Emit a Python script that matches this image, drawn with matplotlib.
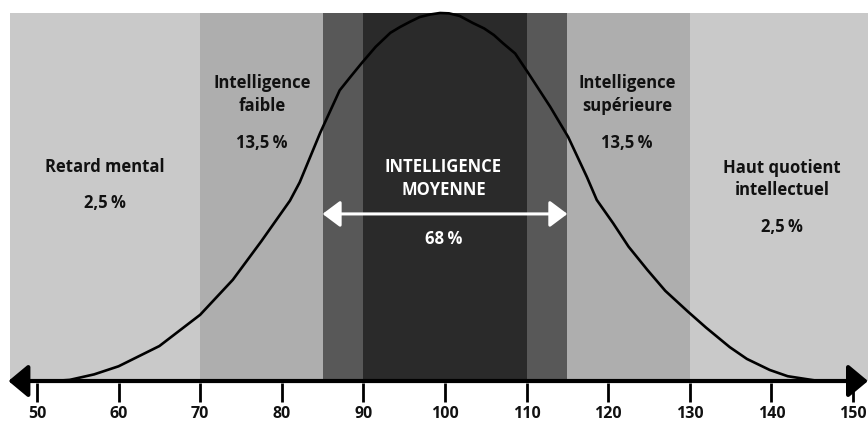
import matplotlib
matplotlib.use('Agg')
import matplotlib.pyplot as plt

# IQ bands (edges) and their grey tones
band_edges = [70, 85, 90, 110, 115, 130]
band_colors = ['#c9c9c9', '#aeaeae', '#585858', '#2a2a2a', '#585858', '#aeaeae', '#c9c9c9']

# bell curve (height, % of peak)
curve_x = [52, 54, 57, 60, 65, 70, 74, 77.5, 81, 82.2, 84.7, 87.1, 88.4, 89.8, 91.5,
           93.3, 94.5, 95.7, 96.9, 98.2, 99.4, 100.5, 101.8, 103.4, 104.8, 106, 107.1,
           108.6, 110.2, 112.9, 115.1, 117.4, 118.6, 120.6, 122.5, 124.8, 127, 129.8,
           132, 134.9, 137, 139.8, 142, 145.5, 148]
curve_y = [0, 0.3, 1.8, 4, 9.5, 18, 27.5, 38, 49, 54, 67.4, 79, 82.6, 86.4, 90.8,
           94.6, 96.2, 97.6, 98.9, 99.6, 100, 99.9, 99.2, 97.3, 95.8, 94, 91.8,
           89, 83.7, 74.5, 66.3, 55.4, 49.2, 42.9, 36.5, 30.2, 24.5, 18.8,
           14.5, 9.2, 6, 3, 1.3, 0.1, 0]

ticks = [50, 60, 70, 80, 90, 100, 110, 120, 130, 140, 150]

labels = ['Retard mental', 'Intelligence\nfaible', 'INTELLIGENCE\nMOYENNE',
          'Intelligence\nsupérieure', 'Haut quotient\nintellectuel']
percents = ['2,5\u2009%', '13,5\u2009%', '68\u2009%', '13,5\u2009%', '2,5\u2009%']

plt.rcParams['font.family'] = ['Open Sans', 'DejaVu Sans']

fig = plt.figure(figsize=(8.68, 4.23), dpi=100)
ax = fig.add_axes([0, 0, 1, 1])
x0, x1 = 45.47, 151.84
ax.set_xlim(x0, x1)
ax.set_ylim(-11.41, 103.53)
ax.axis('off')

# background bands
left, right = 46.7, x1
edges = [left] + band_edges + [right]
for i, c in enumerate(band_colors):
    ax.axvspan(edges[i], edges[i + 1], ymin=(0 + 11.41) / 114.94, ymax=(100 + 11.41) / 114.94,
               color=c, lw=0, zorder=0)

# curve
ax.plot(curve_x, curve_y, color='black', lw=1.9, zorder=3,
        solid_capstyle='round', solid_joinstyle='round')

# axis with arrows
ax.annotate('', xy=(x1, 0), xytext=(left - 0.2, 0),
            arrowprops=dict(arrowstyle='<|-|>,head_length=0.6,head_width=0.5',
                            lw=3, color='black', shrinkA=0, shrinkB=0,
                            mutation_scale=20), zorder=4)

# ticks and tick labels
ax.vlines(ticks, -5.7, -0.5, color='black', lw=2, zorder=4)
for t in ticks:
    ax.text(t, -9.0, str(t), ha='center', va='center', fontsize=11.5,
            fontweight='bold', color='#111111')

# white arrow for the middle band
ax.annotate('', xy=(115, 45.4), xytext=(85, 45.4),
            arrowprops=dict(arrowstyle='<|-|>,head_length=0.6,head_width=0.45',
                            lw=2.2, color='white', shrinkA=0, shrinkB=0,
                            mutation_scale=18), zorder=5)

# text labels
def hy(py):
    return (381 - py) / 3.68

fs = 12
kw = dict(ha='center', va='center', fontsize=fs, fontweight='bold', linespacing=1.3)
ax.text(58.3, hy(167), labels[0], color='#111111', **kw)
ax.text(58.3, hy(203), percents[0], color='#111111', **kw)
ax.text(77.6, hy(94.5), labels[1], color='#111111', **kw)
ax.text(77.6, hy(143), percents[1], color='#111111', **kw)
ax.text(99.8, hy(178.5), labels[2], color='white', **kw)
ax.text(99.8, hy(239), percents[2], color='white', **kw)
ax.text(122.3, hy(94.5), labels[3], color='#111111', **kw)
ax.text(122.3, hy(143), percents[3], color='#111111', **kw)
ax.text(141.3, hy(179), labels[4], color='#111111', **kw)
ax.text(141.3, hy(227), percents[4], color='#111111', **kw)

fig.savefig('out.png', dpi=100)
